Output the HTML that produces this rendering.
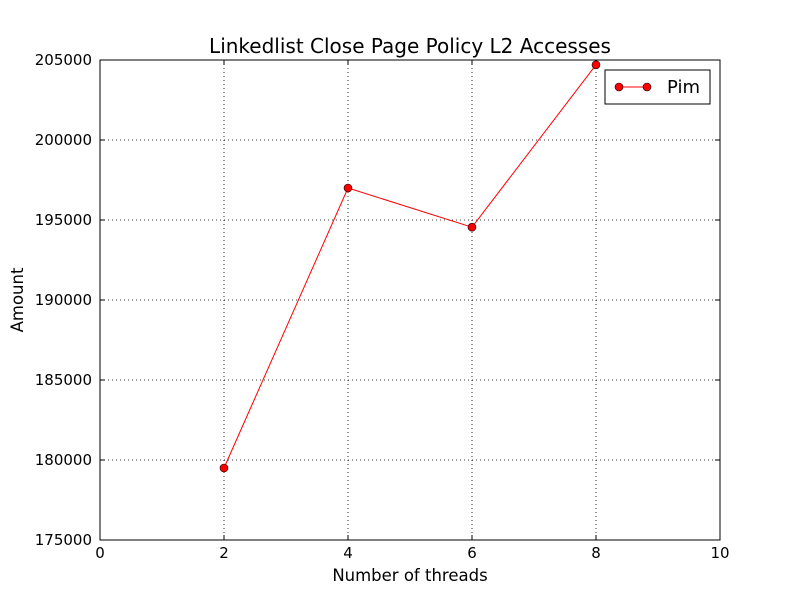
<!DOCTYPE html>
<html><head><meta charset="utf-8"><style>
body{margin:0;background:#fff;}
svg text{font-family:"DejaVu Sans","Liberation Sans",sans-serif;}
</style></head><body>
<svg id="chart" width="800" height="600" viewBox="0 0 800 600" xmlns="http://www.w3.org/2000/svg">
<rect width="800" height="600" fill="#fff"/>
<g id="grid"></g>
<g id="ticks"></g>
<polyline id="line" fill="none" stroke="#ff0000" stroke-width="1"/>
<g id="points"></g>
<rect x="100" y="60" width="620" height="480" fill="none" stroke="#000" stroke-width="1"/>
<text x="410" y="53" text-anchor="middle" font-size="20">Linkedlist Close Page Policy L2 Accesses</text>
<text x="410" y="581" text-anchor="middle" font-size="16.5">Number of threads</text>
<text x="23" y="300" text-anchor="middle" font-size="16.5" transform="rotate(-90 23 300)">Amount</text>
<g>
<rect x="605" y="70" width="105" height="34" fill="#fff" stroke="#000"/>
<line x1="619" y1="87" x2="647" y2="87" stroke="#ff0000"/>
<circle cx="619" cy="87" r="4" fill="#ff0000" stroke="#000" stroke-width="0.6"/>
<circle cx="647" cy="87" r="4" fill="#ff0000" stroke="#000" stroke-width="0.6"/>
<text x="667" y="93" font-size="18">Pim</text>
</g>
</svg>
<script>
const threads = [2, 4, 6, 8];
const accesses = [179500, 197000, 194550, 204700];
const xTicks = [0, 2, 4, 6, 8, 10];
const yTicks = [175000, 180000, 185000, 190000, 195000, 200000, 205000];
const NS = "http://www.w3.org/2000/svg";
const xs = v => 100 + (v - 0) / 10 * 620;
const ys = v => 540 - (v - 175000) / 30000 * 480;
const grid = document.getElementById('grid'), ticks = document.getElementById('ticks');
function mk(tag, attrs, parent){const e=document.createElementNS(NS,tag);for(const k in attrs)e.setAttribute(k,attrs[k]);parent.appendChild(e);return e;}
xTicks.forEach(t=>{
  const x=xs(t);
  const g=mk('line',{x1:x,x2:x,y1:60,y2:540,stroke:'#000','stroke-dasharray':'1,3','stroke-width':0.8},grid);
  
  
  mk('line',{x1:x,x2:x,y1:540,y2:535,stroke:'#000'},ticks);
  mk('line',{x1:x,x2:x,y1:60,y2:65,stroke:'#000'},ticks);
  const tx=mk('text',{x:x,y:558,'text-anchor':'middle','font-size':15},ticks);
  tx.textContent=t;
  
  
});
yTicks.forEach(t=>{
  const y=ys(t);
  const g=mk('line',{x1:100,x2:720,y1:y,y2:y,stroke:'#000','stroke-dasharray':'1,3','stroke-width':0.8},grid);
  
  
  mk('line',{x1:100,x2:105,y1:y,y2:y,stroke:'#000'},ticks);
  mk('line',{x1:715,x2:720,y1:y,y2:y,stroke:'#000'},ticks);
  const tx=mk('text',{x:92,y:y+5,'text-anchor':'end','font-size':15},ticks);
  tx.textContent=t;
  
  
});
document.getElementById('line').setAttribute('points', threads.map((t,i)=>xs(t)+','+ys(accesses[i])).join(' '));
const pts=document.getElementById('points');
threads.forEach((t,i)=>{
  const c=mk('circle',{cx:xs(t),cy:ys(accesses[i]),r:4,fill:'#ff0000',stroke:'#000','stroke-width':0.6},pts);
  
  
});
</script>
</body></html>
